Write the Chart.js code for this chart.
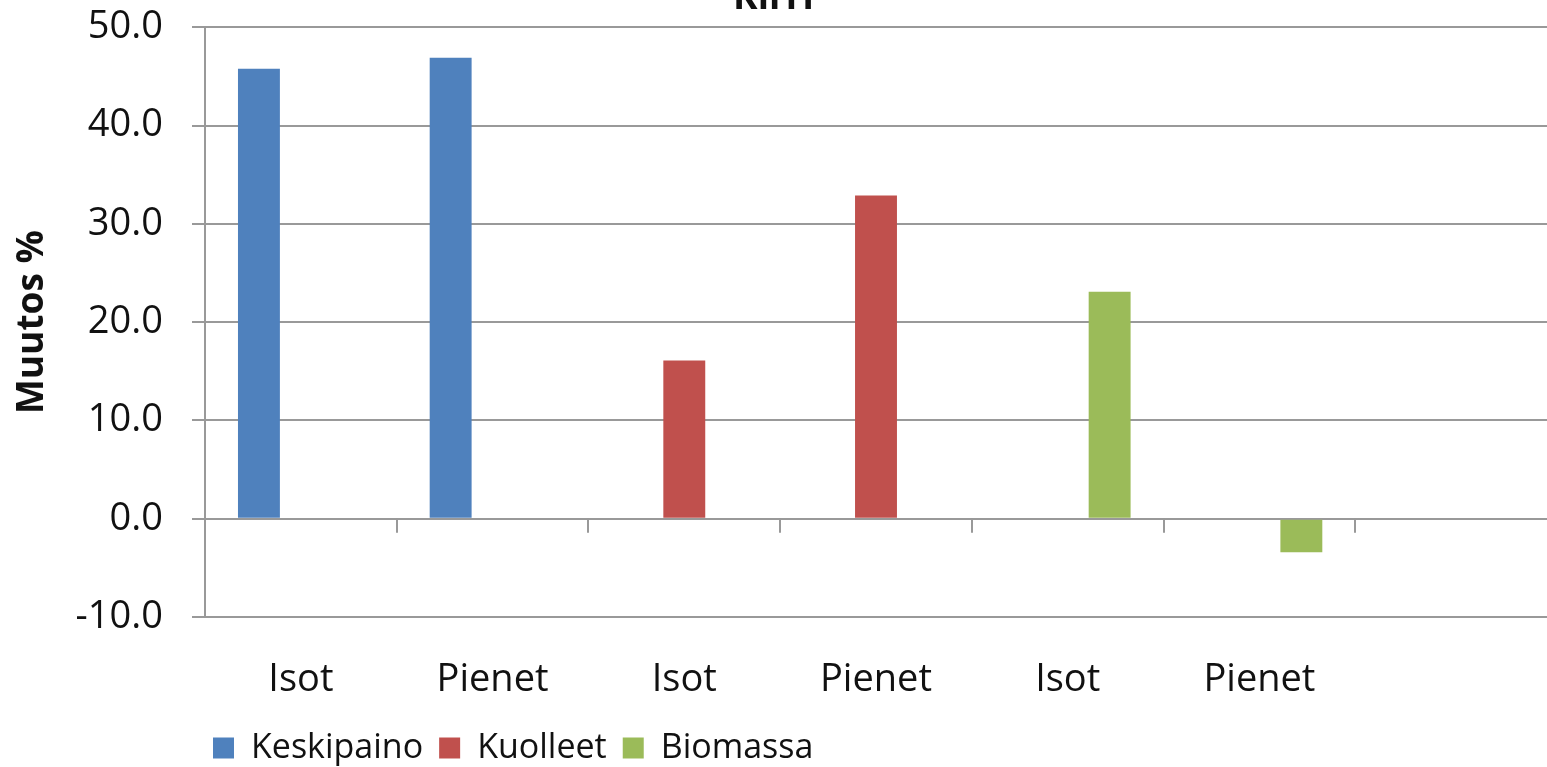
<!DOCTYPE html>
<html>
<head>
<meta charset="utf-8">
<script src="https://cdn.jsdelivr.net/npm/chart.js@4/dist/chart.umd.min.js"></script>
<style>
  html, body { margin: 0; padding: 0; background: #fff; }
  #wrap { position: relative; width: 1547px; height: 767px; overflow: hidden; }
  #box { position: absolute; left: 0; top: -40px; width: 1547px; height: 815px; }
</style>
</head>
<body>
<div id="wrap"><div id="box"><canvas id="chart"></canvas></div></div>
<script>
// data
const categories = ['Isot', 'Pienet', 'Isot', 'Pienet', 'Isot', 'Pienet', ''];
const keskipaino = [45.8, 46.9, null, null, null, null, null];
const kuolleet = [null, null, 16.1, 32.9, null, null, null];
const biomassa = [null, null, null, null, 23.1, -3.4, null];
const yTicks = [-10, 0, 10, 20, 30, 40, 50];

const FONT = "'Open Sans', 'Liberation Sans', sans-serif";
const GRID = '#999999';

// short tick marks hanging from the zero line at the category boundaries
const zeroTicks = {
  id: 'zeroTicks',
  afterDraw(chart) {
    const x = chart.scales.x, y = chart.scales.y;
    const ctx = chart.ctx;
    const step = x.width / categories.length;
    const y0 = y.getPixelForValue(0);
    ctx.save();
    ctx.strokeStyle = GRID;
    ctx.lineWidth = 2;
    for (let i = 1; i < categories.length; i++) {
      const px = Math.round(x.left + i * step);
      ctx.beginPath();
      ctx.moveTo(px, y0);
      ctx.lineTo(px, y0 + 14);
      ctx.stroke();
    }
    ctx.restore();
  }
};

// move the legend to the right a little, like the original
const legendShift = {
  id: 'legendShift',
  afterUpdate(chart) {
    chart.legend.left += 197;
    chart.legend.right += 197;
  }
};

new Chart(document.getElementById('chart'), {
  type: 'bar',
  data: {
    labels: categories,
    datasets: [
      { label: 'Keskipaino', data: keskipaino, backgroundColor: '#4F81BD' },
      { label: 'Kuolleet', data: kuolleet, backgroundColor: '#C0504D' },
      { label: 'Biomassa', data: biomassa, backgroundColor: '#9BBB59' }
    ]
  },
  options: {
    responsive: true,
    maintainAspectRatio: false,
    animation: false,
    categoryPercentage: 0.656,
    barPercentage: 1,
    layout: { padding: { left: 0, right: 0, top: 0, bottom: 0 } },
    plugins: {
      title: {
        display: true,
        text: 'Kirri',
        color: '#111',
        font: { family: FONT, size: 37, weight: 'bold' },
        padding: { top: 16, bottom: 7 }
      },
      legend: {
        position: 'bottom',
        align: 'start',
        labels: {
          color: '#111',
          font: { family: FONT, size: 34 },
          boxWidth: 21,
          boxHeight: 21,
          padding: 16
        }
      },
      tooltip: { enabled: false }
    },
    scales: {
      x: {
        grid: { display: false, drawTicks: false },
        border: { display: false },
        ticks: {
          color: '#111',
          font: { family: FONT, size: 38 },
          padding: 40,
          maxRotation: 0,
          autoSkip: false
        },
        afterFit(scale) { scale.height = 98; }
      },
      y: {
        min: -10,
        max: 50,
        afterBuildTicks(scale) { scale.ticks = yTicks.map(v => ({ value: v })); },
        grid: { color: GRID, lineWidth: 2, tickLength: 13 },
        border: { color: GRID, width: 2 },
        ticks: {
          color: '#111',
          font: { family: FONT, size: 38 },
          padding: 29,
          callback: v => v.toFixed(1)
        },
        title: {
          display: true,
          text: 'Muutos %',
          color: '#111',
          font: { family: FONT, size: 37, weight: 'bold' },
          padding: { top: 10, bottom: 0 }
        },
        afterFit(scale) { scale.width = 205; }
      }
    }
  },
  plugins: [zeroTicks, legendShift]
});
</script>
</body>
</html>
